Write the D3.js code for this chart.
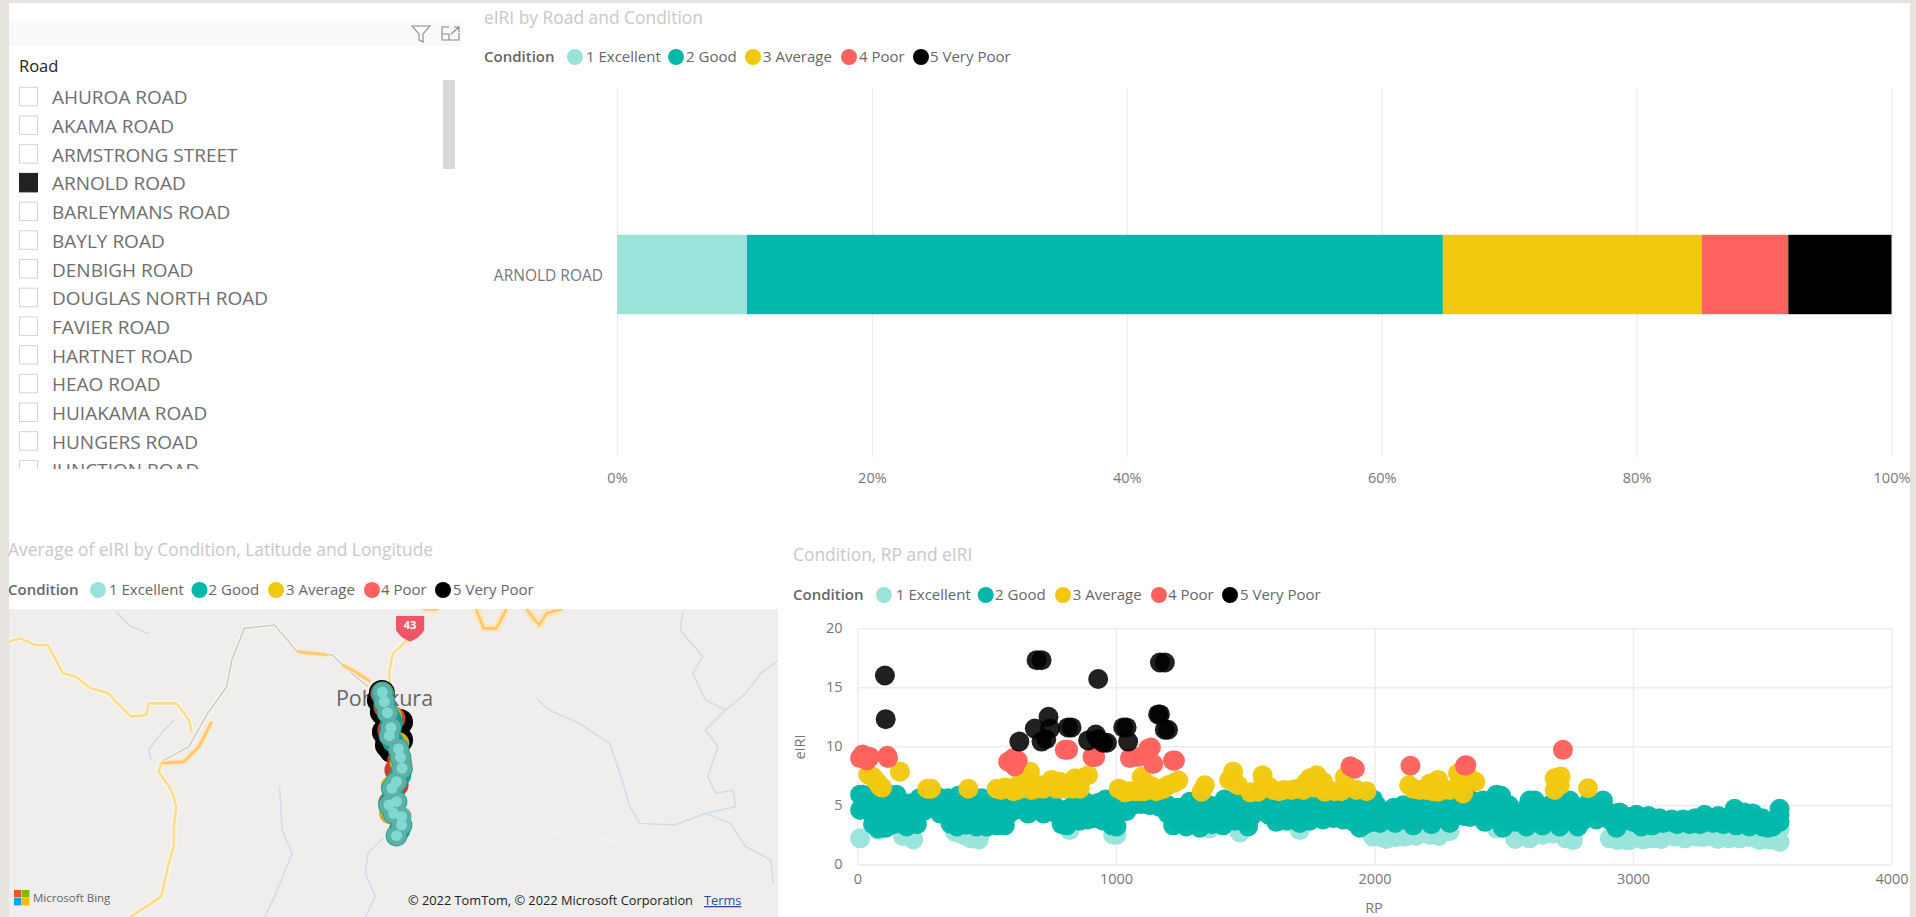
<!DOCTYPE html>
<html><head><meta charset="utf-8">
<script src="https://cdn.jsdelivr.net/npm/d3@7/dist/d3.min.js"></script>
<style>html,body{margin:0;padding:0;background:#fff;overflow:hidden}svg{display:block}text{font-family:"Open Sans","Noto Sans",sans-serif}</style>
</head><body><svg id="c" width="1916" height="917"></svg>
<script>
const conditions=["1 Excellent","2 Good","3 Average","4 Poor","5 Very Poor"];
const colours=["#99E3DB","#01B8AA","#F2C80F","#FD625E","#000000"];
const roads=["AHUROA ROAD","AKAMA ROAD","ARMSTRONG STREET","ARNOLD ROAD","BARLEYMANS ROAD","BAYLY ROAD","DENBIGH ROAD","DOUGLAS NORTH ROAD","FAVIER ROAD","HARTNET ROAD","HEAO ROAD","HUIAKAMA ROAD","HUNGERS ROAD","JUNCTION ROAD"];
const selectedRoad="ARNOLD ROAD";
const barShares=[10.2,54.6,20.3,6.8,8.1];
const barTicks=[0,20,40,60,80,100];
const rpTicks=[0,1000,2000,3000,4000];
const iriTicks=[0,5,10,15,20];

const excellent=[[10,2.2],[80,2.9],[175,2.4],[216,2.1],[377,2.75],[400,2.6],[420,2.4],[440,2.2],[454,2.3],[470,2.1],[490,3.0],[821,2.9],[989,2.5],[1002,2.5],[1363,3.05],[1479,2.7],[1711,2.9],[1994,2.35],[2020,2.6],[2030,2.3],[2046,2.15],[2080,2.3],[2117,2.35],[2160,2.4],[2214,2.5],[2250,2.4],[2291,2.8],[2472,3.05],[2545,2.15],[2580,2.4],[2600,2.2],[2620,2.5],[2650,2.5],[2691,2.6],[2740,2.2],[2768,2.05],[2910,2.2],[2940,2.05],[2974,2.05],[2987,2.05],[3000,2.3],[3040,2.1],[3077,2.2],[3110,2.15],[3120,2.6],[3161,2.35],[3200,2.2],[3245,2.35],[3270,2.3],[3290,2.4],[3328,2.15],[3370,2.2],[3412,2.2],[3450,2.3],[3490,2.05],[3530,2.1],[3550,2.4],[3567,1.9],[3567,3.0]];
const good=[[10,5.9],[22,5.9],[45,5.7],[90,5.5],[120,5.9],[150,5.9],[180,5.2],[190,4.9],[215,5.2],[240,5.6],[270,5.6],[310,5.7],[350,5.6],[390,5.8],[430,5.5],[480,5.6],[530,5.6],[580,5.4],[620,4.9],[650,4.6],[700,5.0],[770,4.8],[830,4.9],[880,5.3],[930,5.2],[960,5.5],[990,5.6],
[10,4.6],[35,4.6],[60,3.4],[80,3.05],[110,3.1],[140,3.4],[190,3.2],[230,3.4],[255,4.5],[285,4.9],[320,4.3],[360,3.45],[385,3.2],[420,3.35],[460,3.2],[500,3.2],[540,3.3],[570,3.3],[610,4.6],[660,4.3],[720,4.3],[790,3.4],[810,3.3],[860,3.7],[890,3.8],[950,3.7],[985,3.3],
[20,5.1],[50,4.6],[75,4.9],[100,4.2],[130,4.6],[160,4.3],[185,3.9],[215,4.1],[270,5.0],[300,4.9],[340,4.8],[375,4.3],[410,4.7],[445,4.1],[480,4.8],[520,4.2],[555,4.7],[590,4.4],[680,4.7],[740,4.5],[800,4.2],[845,4.4],[900,4.4],[940,4.6],[975,4.3],
[30,5.3],[60,5.2],[105,5.0],[140,5.2],[165,4.9],[120,3.9],[150,3.7],[200,3.6],[235,4.6],[260,5.2],[320,5.2],[355,4.2],[365,5.1],[395,3.9],[425,4.1],[440,5.0],[465,3.9],[495,4.2],[510,5.0],[535,3.9],[565,5.0],[575,4.0],[600,5.0],[640,4.8],[670,5.0],[720,4.9],[755,5.0],[780,4.1],[815,4.6],[835,3.9],[870,4.6],[915,3.9],[920,4.9],[965,3.9],[985,4.9],
[1020,5.5],[1060,5.5],[1100,5.6],[1150,5.3],[1200,5.0],[1240,4.8],[1285,5.3],[1320,5.2],[1360,5.0],[1420,5.5],[1470,5.3],[1530,5.4],[1600,5.2],[1680,5.2],[1750,5.2],[1820,5.1],[1880,4.9],[1940,5.2],[1994,5.5],
[1002,3.2],[1040,4.5],[1098,5.1],[1170,4.85],[1221,3.3],[1250,3.6],[1272,3.2],[1324,3.1],[1370,3.4],[1414,3.3],[1460,3.7],[1511,3.2],[1556,4.6],[1590,4.2],[1620,3.6],[1660,3.7],[1711,3.5],[1750,3.7],[1801,3.8],[1840,3.9],[1878,3.8],[1897,4.9],[1920,3.6],[1943,3.1],[1965,3.4],[1994,3.6],
[1010,4.3],[1060,5.0],[1130,5.0],[1200,4.3],[1240,4.3],[1290,4.4],[1340,4.1],[1390,4.3],[1430,4.5],[1480,4.4],[1540,4.7],[1580,4.9],[1640,4.4],[1700,4.4],[1760,4.5],[1820,4.6],[1860,4.7],[1910,5.1],[1950,4.4],[1985,4.4],
[1005,5.2],[1030,5.1],[1080,5.1],[1110,5.3],[1160,5.0],[1225,4.2],[1260,4.5],[1265,3.8],[1300,3.8],[1310,4.8],[1345,4.7],[1350,3.7],[1380,4.9],[1405,3.9],[1410,5.0],[1450,4.9],[1445,3.9],[1490,3.8],[1500,5.0],[1525,4.1],[1560,5.1],[1610,4.7],[1625,4.2],[1650,5.0],[1670,4.3],[1685,3.9],[1720,4.9],[1730,4.1],[1780,4.0],[1790,5.0],[1830,4.2],[1845,5.0],[1885,4.4],[1930,4.1],[1965,4.9],[1975,4.0],[2000,4.9],
[2008,5.0],[2059,4.2],[2111,5.0],[2170,5.2],[2240,5.3],[2300,5.3],[2369,5.5],[2420,5.4],[2472,5.9],[2490,5.8],[2536,4.5],[2600,5.4],[2620,5.4],[2678,5.0],[2720,5.2],[2755,5.4],[2830,5.3],[2884,5.4],[2948,4.4],[3013,4.1],
[2021,3.5],[2080,3.5],[2150,3.3],[2220,3.4],[2291,3.5],[2369,4.0],[2427,3.6],[2497,3.1],[2588,3.2],[2650,3.3],[2716,3.2],[2787,3.2],[2858,3.8],[2936,3.1],[3000,3.6],
[2040,4.2],[2090,4.4],[2140,4.3],[2200,4.4],[2260,4.4],[2320,4.6],[2390,4.7],[2440,4.4],[2510,4.2],[2560,4.0],[2610,4.3],[2670,4.1],[2710,4.0],[2790,4.2],[2830,4.4],[2870,4.6],[2900,4.1],[2960,3.7],
[2015,4.2],[2065,3.9],[2075,4.8],[2120,3.8],[2125,4.7],[2165,3.8],[2170,4.7],[2210,4.9],[2235,3.9],[2270,4.9],[2275,3.9],[2330,5.0],[2345,4.1],[2395,5.2],[2405,4.1],[2450,5.0],[2465,4.2],[2480,5.3],[2525,3.7],[2520,5.0],[2545,3.6],[2575,3.8],[2585,4.7],[2640,4.8],[2635,3.9],[2690,4.6],[2685,3.7],[2740,4.7],[2770,3.8],[2775,4.9],[2805,3.7],[2815,4.8],[2855,4.9],[2885,4.7],[2915,3.7],[2925,4.3],[2985,4.0],
[3013,4.2],[3060,4.1],[3103,3.9],[3150,3.8],[3193,3.8],[3240,3.9],[3277,4.2],[3330,4.1],[3393,4.7],[3430,4.4],[3464,4.3],[3500,3.9],[3522,3.1],[3567,4.7],[3567,4.2],
[3032,3.2],[3075,3.3],[3116,3.5],[3170,3.4],[3219,3.4],[3260,3.4],[3309,3.5],[3350,3.4],[3399,3.3],[3450,3.2],[3500,3.2],[3541,3.2],[3567,3.6],
[3030,3.7],[3055,3.6],[3085,3.7],[3130,3.6],[3175,3.6],[3215,3.7],[3255,3.7],[3295,3.8],[3320,3.8],[3365,3.8],[3385,4.0],[3420,3.8],[3455,3.7],[3490,3.5],[3530,3.4]];
const average=[[42,7.6],[60,7.4],[75,7.0],[87,6.6],[95,6.5],[164,7.85],[270,6.4],[285,6.4],[429,6.4],[538,6.4],[555,6.3],[570,6.5],[590,6.4],[603,6.2],[620,6.3],[628,6.9],[640,6.6],[650,7.2],[667,7.85],[673,6.3],[690,6.4],[705,6.7],[718,6.4],[735,6.6],[751,7.15],[760,6.8],[770,6.4],[783,7.0],[800,6.4],[815,6.6],[833,6.4],[841,7.3],[850,6.8],[860,6.4],[870,7.3],[892,7.55],
[1010,6.4],[1021,6.3],[1035,6.1],[1054,6.2],[1075,6.2],[1092,6.2],[1099,7.4],[1110,6.2],[1120,6.8],[1140,6.6],[1155,6.2],[1170,6.3],[1185,6.4],[1201,6.7],[1225,6.9],[1241,7.1],[1331,6.15],[1344,6.7],[1438,7.15],[1453,7.85],[1473,6.7],[1520,6.1],[1550,6.15],[1567,7.55],[1570,7.0],[1590,6.6],[1608,6.3],[1630,6.2],[1650,6.3],[1679,6.3],[1700,6.4],[1725,6.3],[1735,6.9],[1750,7.3],[1770,6.5],[1776,7.55],[1801,7.0],[1808,6.15],[1845,6.2],[1872,6.2],[1885,7.4],[1930,6.3],[1969,6.2],
[2134,6.7],[2150,6.4],[2175,6.3],[2200,6.3],[2214,6.85],[2225,6.2],[2246,7.15],[2246,6.15],[2265,6.3],[2291,6.3],[2320,6.5],[2323,7.7],[2340,6.9],[2369,7.3],[2343,6.0],[2390,7.0],[2697,7.3],[2720,7.45],[2717,6.7],[2697,6.3],[2826,6.45]];
const poor=[[10,9.0],[20,9.3],[36,9.1],[36,8.8],[48,9.1],[115,9.2],[118,9.0],[583,8.7],[603,9.0],[609,8.3],[620,8.8],[802,9.7],[815,9.7],[909,9.1],[920,9.1],[1054,9.0],[1086,9.1],[1125,9.8],[1135,9.9],[1144,8.5],[1228,8.8],[1220,8.8],[1907,8.3],[1924,8.1],[2139,8.35],[2350,8.35],[2355,8.4],[2729,9.7]];
const veryPoor=[[106,16.0],[109,12.3],[693,17.3],[712,17.3],[931,15.7],[1170,17.1],[1189,17.1],[739,12.5],[686,11.5],[745,11.5],[814,11.6],[828,11.6],[626,10.4],[712,10.4],[730,10.6],[892,10.5],[922,11.0],[930,10.6],[950,10.3],[965,10.3],[1028,11.6],[1041,11.6],[1047,10.4],[1163,12.7],[1170,12.7],[1189,11.4],[1201,11.4]];
const scatterSeries=[excellent,good,average,poor,veryPoor];

// Map content, in projected map units (east, south) of the basemap tile
const mapW=1568,mapH=1161;
const roadWest=[[18,335],[40,325],[70,345],[95,345],[125,430],[150,440],[180,475],[215,490],[230,515],[260,560],[290,555],[295,520],[350,520],[375,570],[380,605]];
const roadLink=[[320,700],[365,695],[395,650],[420,575]];
const roadSouth=[[320,700],[315,725],[340,780],[350,830],[345,890],[345,950],[335,1000],[320,1100],[300,1120],[270,1150],[258,1161]];
const roadGrey=[[320,695],[375,650],[410,555],[450,470],[460,390],[485,295],[545,285],[590,365],[660,375],[690,420],[730,470]];
const roadCentre1=[[590,365],[650,375]];
const roadCentre2=[[680,405],[705,425],[735,455]];
const road43=[[815,320],[780,370],[772,430],[775,470]];
const roadTopA=[[945,238],[960,295],[985,295],[1005,238]];
const roadTopB=[[1045,238],[1070,285],[1085,250],[1115,238]];
const roadTopC=[[840,238],[870,238]];
const rivers=[
[[230,245],[260,290],[295,310]],
[[345,570],[320,610],[295,660],[300,690]],
[[555,770],[560,900],[580,970],[545,1100],[525,1161]],
[[760,925],[730,970],[725,1030],[745,1100],[725,1161]],
[[1065,505],[1090,540],[1150,580],[1210,640],[1235,750],[1250,830],[1270,880],[1340,885],[1400,850],[1450,880],[1480,950],[1530,990],[1535,1060]],
[[1355,245],[1350,300],[1395,380],[1375,430],[1400,510],[1440,540],[1400,600],[1425,650],[1405,740],[1420,790],[1455,780],[1460,830],[1400,850]],
[[1545,390],[1510,430],[1480,490],[1440,540]]];
const minorRoad=[[830,695],[900,700],[970,800],[1070,850],[1090,905],[1230,935],[1270,880]];
const mapVeryPoor=[[758,489],[754,510],[760,546],[794,576],[764,606],[794,630],[770,645],[778,660]];
const mapPoor=[[758,490],[764,530],[782,565],[772,600],[792,690],[786,720],[788,765],[774,819]];
const mapAverage=[[760,492],[776,560],[796,699],[790,640],[778,770],[775,849]];
const mapGood=[[759,487],[761,500],[763,515],[766,532],[769,548],[775,565],[778,578],[776,593],[773,617],[780,635],[791,657],[795,682],[798,715],[795,735],[787,755],[778,775],[780,795],[787,815],[772,825],[781,850],[790,858],[797,885],[793,900],[787,917]];
const mapExcellent=[[759,487],[763,515],[769,548],[776,593],[773,617],[791,657],[795,682],[798,715],[787,755],[778,775],[787,815],[772,825],[781,850],[797,860],[797,885],[787,917]];

const svg=d3.select("#c");
const pageBg="#E6E3DF",tickCol="#777",gridCol="#EDEDED",titleCol="#C8C8C8";
svg.append("rect").attr("width",1916).attr("height",917).attr("fill","#fff");
svg.append("rect").attr("width",1916).attr("height",3).attr("fill",pageBg);
svg.append("rect").attr("width",9).attr("height",917).attr("fill",pageBg);
svg.append("rect").attr("x",1910).attr("width",6).attr("height",917).attr("fill",pageBg);

// slicer
svg.append("rect").attr("x",9).attr("y",21).attr("width",454).attr("height",25).attr("fill","#F9F9F9");
svg.append("path").attr("d","M412,26 L430,26 L423,34 L423,42 L419,40 L419,34 Z").attr("fill","none").attr("stroke","#888").attr("stroke-width",1.1);
svg.append("path").attr("d","M449,27 L442,27 L442,40 L459,40 L459,33 M442,34 L449,34 L449,40 M451,34 L459,27 M454,27 L459,27 L459,32").attr("fill","none").attr("stroke","#888").attr("stroke-width",1.1);
svg.append("text").attr("x",19).attr("y",72).attr("font-size",16.5).attr("fill","#222").text("Road");
const slicerY=d3.scalePoint().domain(roads).range([97.3,470.4]);
const defs=svg.append("defs");
defs.append("clipPath").attr("id","slClip").append("rect").attr("x",9).attr("y",78).attr("width",430).attr("height",391);
const sl=svg.append("g").attr("clip-path","url(#slClip)").selectAll("g").data(roads).join("g").attr("transform",d=>`translate(0,${slicerY(d)})`);
sl.append("rect").attr("x",19.5).attr("y",-10).attr("width",18).attr("height",18.5)
  .attr("fill",d=>d===selectedRoad?"#222":"#fff").attr("stroke",d=>d===selectedRoad?"#222":"#D4D4D4").attr("stroke-width",1);
sl.append("text").attr("x",52).attr("y",7).attr("font-size",19).attr("fill","#6E6E6E").text(d=>d);
svg.append("rect").attr("x",443).attr("y",80).attr("width",12).attr("height",89).attr("fill","#D8D8D8");

function legend(g,y,label,labelX,circX,textX,r,fs){
  g.append("text").attr("x",labelX).attr("y",y+5).attr("font-size",fs).attr("font-weight",600).attr("fill","#666").text(label);
  conditions.forEach((c,i)=>{
    g.append("circle").attr("cx",circX[i]).attr("cy",y).attr("r",r).attr("fill",colours[i]);
    g.append("text").attr("x",textX[i]).attr("y",y+5).attr("font-size",fs).attr("fill","#666").text(c);
  });
}
// bar chart
const barG=svg.append("g");
barG.append("text").attr("x",484).attr("y",24).attr("font-size",17.4).attr("fill",titleCol).text("eIRI by Road and Condition");
legend(barG,57,"Condition",484,[575,676,753,849,921],[586,686,763,859,930],8,15);
const bx=d3.scaleLinear().domain([0,100]).range([617,1891.5]);
const by=d3.scaleBand().domain([selectedRoad]).range([88,457]).paddingInner(0).paddingOuter(0);
const barAxis=barG.append("g").attr("transform","translate(0,457)").call(d3.axisBottom(bx).tickValues(barTicks).tickFormat(d=>d+"%").tickSize(-369).tickPadding(16));
barAxis.select(".domain").remove();
barAxis.selectAll("line").attr("stroke",gridCol).attr("stroke-width",1.2);
barAxis.selectAll("text").attr("font-size",14.5).attr("fill",tickCol).attr("font-family",'"Open Sans",sans-serif');
let acc=0;
const stacked=barShares.map(v=>{const s=[acc,acc+v];acc+=v;return s;});
const barH=79.4;
barG.selectAll("rect.seg").data(stacked).join("rect").attr("class","seg")
  .attr("x",d=>bx(d[0])).attr("width",d=>bx(d[1])-bx(d[0]))
  .attr("y",by(selectedRoad)+by.bandwidth()/2-barH/2+2).attr("height",barH)
  .attr("fill",(d,i)=>colours[i]);
barG.append("text").attr("x",603).attr("y",281).attr("text-anchor","end").attr("font-size",15.5).attr("fill",tickCol).text(selectedRoad);

// map
const mapG=svg.append("g");
mapG.append("text").attr("x",8).attr("y",556).attr("font-size",17.4).attr("fill",titleCol).text("Average of eIRI by Condition, Latitude and Longitude");
legend(mapG,590,"Condition",8,[98,199.5,276,372,443],[109,208.6,286,381,453],8,15);
defs.append("clipPath").attr("id","mapClip").append("rect").attr("x",9).attr("y",609).attr("width",769).attr("height",308);
const mx=d3.scaleLinear().domain([0,mapW]).range([0,790]);
const my=d3.scaleLinear().domain([0,mapH]).range([530,917]);
const ln=d3.line().x(d=>mx(d[0])).y(d=>my(d[1]));
const tile=mapG.append("g").attr("clip-path","url(#mapClip)");
tile.append("rect").attr("x",9).attr("y",609).attr("width",769).attr("height",308).attr("fill","#EFEEEC");
rivers.forEach(r=>tile.append("path").attr("d",ln(r)).attr("fill","none").attr("stroke","#CBDCEF").attr("stroke-width",1.4));
tile.append("path").attr("d",ln(minorRoad)).attr("fill","none").attr("stroke","#F5F5F3").attr("stroke-width",1);
tile.append("path").attr("d",ln(roadGrey)).attr("fill","none").attr("stroke","#F8F7F2").attr("stroke-width",4);
tile.append("path").attr("d",ln(roadGrey)).attr("fill","none").attr("stroke","#CFCCC4").attr("stroke-width",1.6);
[roadWest,roadLink,roadSouth,roadCentre1,roadCentre2,road43,roadTopA,roadTopB,roadTopC].forEach((r,i)=>{
  const strong=i===1||i===3||i===4||i>=6;
  tile.append("path").attr("d",ln(r)).attr("fill","none").attr("stroke",strong?"#FFE7B5":"#FFF6DC").attr("stroke-width",i>=6?8:5.5).attr("stroke-linejoin","round");
  tile.append("path").attr("d",ln(r)).attr("fill","none").attr("stroke",strong?"#F9C774":"#F6DC98").attr("stroke-width",2.6).attr("stroke-linejoin","round");
});
tile.append("path").attr("d",`M${mx(786)},${my(258)} H${mx(842)} V${my(300)} Q${mx(835)},${my(322)} ${mx(814)},${my(335)} Q${mx(793)},${my(322)} ${mx(786)},${my(300)} Z`).attr("fill","#EE5668");
tile.append("text").attr("x",mx(814)).attr("y",my(298)).attr("text-anchor","middle").attr("font-size",11).attr("font-weight",700).attr("fill","#fff").text("43");
tile.append("text").attr("x",384.5).attr("y",706).attr("text-anchor","middle").attr("font-size",21.5).attr("fill","#666").text("Pohokura");
const bub=(data,r,fill,op)=>tile.append("g").selectAll("circle").data(data).join("circle").attr("cx",d=>mx(d[0])).attr("cy",d=>my(d[1])).attr("r",r).attr("fill",fill).attr("fill-opacity",op);
bub(mapVeryPoor,13,"#000",1);
bub(mapPoor,11.6,"#C8402F",1);
bub(mapAverage,11.3,"#C9B020",1);
bub(mapGood,10.8,"#16A094",1);
bub(mapExcellent,10,"#5EB0A7",1);
bub(mapExcellent,5.5,"#80D9D0",1);
const logo=[["#F25022",14,890],["#7FBA00",22,890],["#00A4EF",14,898],["#FFB900",22,898]];
logo.forEach(l=>tile.append("rect").attr("x",l[1]).attr("y",l[2]).attr("width",7.4).attr("height",7.4).attr("fill",l[0]));
tile.append("text").attr("x",33).attr("y",902).attr("font-size",11.5).attr("fill","#666").text("Microsoft Bing");
tile.append("text").attr("x",408).attr("y",905).attr("font-size",12.8).attr("fill","#222").text("© 2022 TomTom, © 2022 Microsoft Corporation");
tile.append("text").attr("x",704).attr("y",905).attr("font-size",12.8).attr("fill","#2B4AA0").attr("text-decoration","underline").text("Terms");

// scatter
const scG=svg.append("g");
scG.append("text").attr("x",793).attr("y",561).attr("font-size",17.4).attr("fill",titleCol).text("Condition, RP and eIRI");
legend(scG,595,"Condition",793,[884,985.7,1063,1159,1230],[896,995,1072.7,1168,1240],8,15);
const sx=d3.scaleLinear().domain([0,4000]).range([857.5,1891.5]);
const sy=d3.scaleLinear().domain([0,20]).range([864.3,628.3]);
const xa=scG.append("g").attr("transform","translate(0,864.3)").call(d3.axisBottom(sx).tickValues(rpTicks).tickFormat(d3.format("d")).tickSize(-236).tickPadding(9));
const ya=scG.append("g").attr("transform","translate(857.5,0)").call(d3.axisLeft(sy).tickValues(iriTicks).tickSize(-1034).tickPadding(15));
[xa,ya].forEach(a=>{a.select(".domain").remove();a.selectAll("line").attr("stroke",gridCol).attr("stroke-width",1.5);a.selectAll("text").attr("font-size",14.5).attr("fill",tickCol).attr("font-family",'"Open Sans",sans-serif');});
scatterSeries.forEach((s,i)=>{
  scG.append("g").selectAll("circle").data(s).join("circle").attr("cx",d=>sx(d[0])).attr("cy",d=>sy(d[1])).attr("r",10).attr("fill",colours[i]).attr("fill-opacity",i===4?0.87:0.97);
});
scG.append("text").attr("x",1374).attr("y",913).attr("text-anchor","middle").attr("font-size",14.5).attr("fill",tickCol).text("RP");
scG.append("text").attr("transform","translate(805,747) rotate(-90)").attr("text-anchor","middle").attr("font-size",14.5).attr("fill",tickCol).text("eIRI");
</script></body></html>
